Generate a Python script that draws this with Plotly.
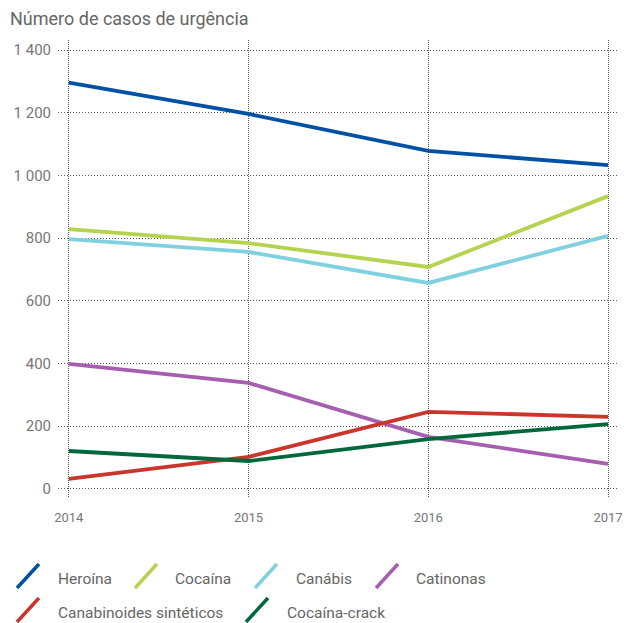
import plotly.graph_objects as go

# Emergency cases per substance, 2014-2017
years = [2014, 2015, 2016, 2017]
series_names = ["Heroína", "Cocaína", "Canábis", "Catinonas",
                "Canabinoides sintéticos", "Cocaína-crack"]
heroina = [1296, 1196, 1078, 1033]
cocaina = [829, 784, 708, 934]
canabis = [797, 756, 657, 807]
catinonas = [399, 338, 166, 80]
canabinoides = [32, 102, 246, 230]
crack = [121, 89, 159, 207]
series_values = [heroina, cocaina, canabis, catinonas, canabinoides, crack]
colors = ["#0050a4", "#b5d34f", "#7fd1e0", "#a65fae", "#c9372c", "#00683a"]

y_ticks = [0, 200, 400, 600, 800, 1000, 1200, 1400]
y_tick_labels = ["0", "200", "400", "600", "800", "1 000", "1 200", "1 400"]
title_text = "Número de casos de urgência"

W, H = 624, 623
ML, MR, MT, MB = 58, 7, 40, 125
PW, PH = W - ML - MR, H - MT - MB

def px(x):
    return (x - ML) / PW

def py(y):
    return (H - MB - y) / PH

fig = go.Figure()
for name, vals, col in zip(series_names, series_values, colors):
    fig.add_trace(go.Scatter(x=years, y=vals, mode="lines", name=name,
                             line=dict(color=col, width=3.8),
                             showlegend=False))

fig.update_xaxes(range=[2013.94, 2017.05], tickvals=years,
                 ticktext=[str(y) for y in years],
                 tickfont=dict(family="Roboto", size=13, color="#777"),
                 showgrid=True, gridcolor="#555", gridwidth=1, griddash="1px,1px",
                 zeroline=False, showline=False, ticks="", ticklabelstandoff=10,
                 automargin=False)
fig.update_yaxes(range=[-29, 1432], tickvals=y_ticks, ticktext=y_tick_labels,
                 tickfont=dict(family="Roboto", size=15, color="#777"),
                 showgrid=True, gridcolor="#555", gridwidth=1, griddash="1px,2px",
                 zeroline=False, showline=False, ticks="", ticklabelstandoff=6,
                 automargin=False)

# Title above the plot
annotations = [dict(text=title_text, xref="paper", yref="paper",
                    x=px(8), y=py(19), xanchor="left", yanchor="middle",
                    showarrow=False,
                    font=dict(family="Roboto", size=18, color="#666"))]

# Legend with slanted line keys: (key left x, row centre y, text left x)
legend_layout = [
    (17, 576, 56), (135, 576, 173), (255, 576, 294), (376, 576, 414),
    (17, 610, 56), (246, 610, 285),
]
shapes = []
for (ix, iy, tx), name, col in zip(legend_layout, series_names, colors):
    shapes.append(dict(type="line", xref="paper", yref="paper",
                       x0=px(ix), y0=py(iy + 12), x1=px(ix + 22), y1=py(iy - 12),
                       line=dict(color=col, width=3.5)))
    annotations.append(dict(text=name, xref="paper", yref="paper",
                            x=px(tx), y=py(iy + 3), xanchor="left", yanchor="middle",
                            showarrow=False,
                            font=dict(family="Roboto", size=15.5, color="#666")))

fig.update_layout(width=W, height=H,
                  margin=dict(l=ML, r=MR, t=MT, b=MB, pad=0),
                  plot_bgcolor="white", paper_bgcolor="white",
                  shapes=shapes, annotations=annotations)

fig.write_html("out.html")
